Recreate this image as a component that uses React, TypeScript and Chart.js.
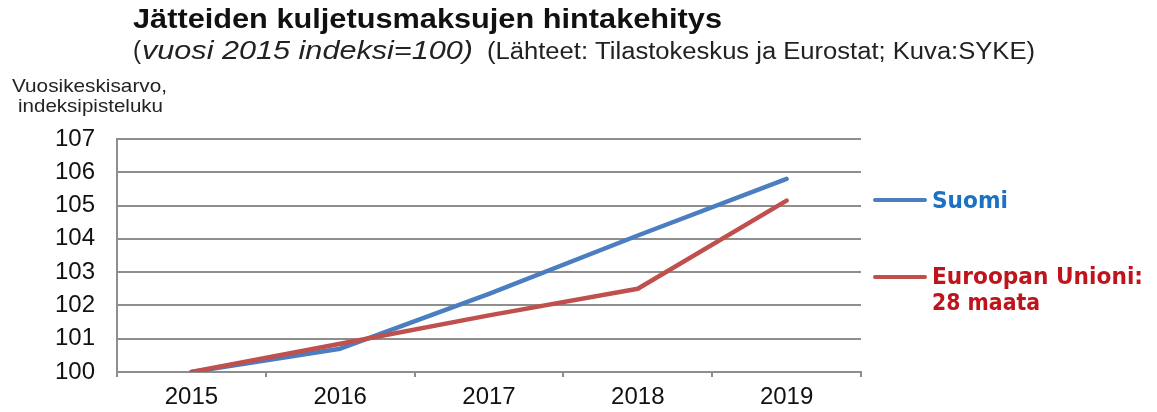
import React, { useEffect, useRef } from "react";
import { Chart, registerables } from "chart.js";

Chart.register(...registerables);

const years = ["2015", "2016", "2017", "2018", "2019"];
const suomiValues = [100, 100.7, 102.35, 104.1, 105.8];
const euValues = [100, 100.85, 101.7, 102.5, 105.15];
const yMin = 100;
const yMax = 107;

const titleText = "Jätteiden kuljetusmaksujen hintakehitys";
const subtitleItalic = "vuosi 2015 indeksi=100)";
const subtitleSource = "(Lähteet: Tilastokeskus ja Eurostat; Kuva:SYKE)";
const axisTitleLines = ["Vuosikeskisarvo,", "indeksipisteluku"];
const suomiLabel = ["Suomi"];
const euLabel = ["Euroopan Unioni:", "28 maata"];

const BLUE_LINE = "#4A7EC0";
const RED_LINE = "#C0504D";
const BLUE_TEXT = "#1B72C2";
const RED_TEXT = "#C0141C";
const GRID = "#8E8E8E";

function fitText(
  ctx: CanvasRenderingContext2D,
  text: string,
  x: number,
  baseline: number,
  width: number,
  font: string,
  color: string
) {
  ctx.save();
  ctx.font = font;
  ctx.fillStyle = color;
  ctx.textAlign = "left";
  ctx.textBaseline = "alphabetic";
  const w = ctx.measureText(text).width;
  ctx.translate(x, baseline);
  ctx.scale(width / w, 1);
  ctx.fillText(text, 0, 0);
  ctx.restore();
}

const annotations = {
  id: "annotations",
  afterDraw(chart: any) {
    const ctx: CanvasRenderingContext2D = chart.ctx;
    const SANS = "'Liberation Sans', Arial, sans-serif";
    fitText(ctx, titleText, 133, 28, 589, `bold 27px ${SANS}`, "#111");
    fitText(ctx, "(", 133, 59, 8, `25px ${SANS}`, "#222");
    fitText(ctx, subtitleItalic, 142, 59, 331, `italic 25px ${SANS}`, "#222");
    fitText(ctx, subtitleSource, 487, 59, 548, `23px ${SANS}`, "#222");
    fitText(ctx, axisTitleLines[0], 12, 92, 155, `19px ${SANS}`, "#222");
    fitText(ctx, axisTitleLines[1], 18, 112, 145, `19px ${SANS}`, "#222");

    const LEG = "'DejaVu Sans', Verdana, sans-serif";
    ctx.save();
    ctx.lineWidth = 4;
    ctx.lineCap = "round";
    ctx.strokeStyle = BLUE_LINE;
    ctx.beginPath();
    ctx.moveTo(875, 200);
    ctx.lineTo(925, 200);
    ctx.stroke();
    ctx.strokeStyle = RED_LINE;
    ctx.beginPath();
    ctx.moveTo(875, 277);
    ctx.lineTo(925, 277);
    ctx.stroke();
    ctx.restore();
    fitText(ctx, suomiLabel[0], 932, 208, 76, `bold 23px ${LEG}`, BLUE_TEXT);
    fitText(ctx, euLabel[0], 932, 284, 211, `bold 23px ${LEG}`, RED_TEXT);
    fitText(ctx, euLabel[1], 932, 310, 108, `bold 23px ${LEG}`, RED_TEXT);
  },
};

export default function App() {
  const ref = useRef<HTMLCanvasElement>(null);
  useEffect(() => {
    document.body.style.margin = "0";
    const canvas = ref.current!;
    const chart = new Chart(canvas, {
      type: "line",
      data: {
        labels: years,
        datasets: [
          {
            label: euLabel.join(" "),
            data: euValues,
            borderColor: RED_LINE,
            borderWidth: 4.5,
            pointRadius: 0,
            tension: 0,
            borderCapStyle: "round",
            borderJoinStyle: "round",
          },
          {
            label: suomiLabel[0],
            data: suomiValues,
            borderColor: BLUE_LINE,
            borderWidth: 4.5,
            pointRadius: 0,
            tension: 0,
            borderCapStyle: "round",
            borderJoinStyle: "round",
          },
        ],
      },
      options: {
        responsive: false,
        animation: false,
        layout: { padding: { top: 139, right: 296, left: 0, bottom: 0 } },
        plugins: { legend: { display: false }, tooltip: { enabled: false } },
        scales: {
          x: {
            offset: true,
            grid: {
              offset: true,
              drawOnChartArea: false,
              drawTicks: true,
              tickLength: 5,
              color: GRID,
              lineWidth: 2,
            },
            border: { display: true, color: GRID, width: 2 },
            ticks: {
              color: "#111",
              font: { family: "'Liberation Sans', Arial, sans-serif", size: 24 },
              padding: 6,
              maxRotation: 0,
            },
            afterFit(scale: any) {
              scale.height = 40;
            },
          },
          y: {
            min: yMin,
            max: yMax,
            grid: { drawTicks: false, color: GRID, lineWidth: 2 },
            border: { display: true, color: GRID, width: 2 },
            ticks: {
              stepSize: 1,
              color: "#111",
              font: { family: "'Liberation Sans', Arial, sans-serif", size: 24 },
              padding: 22,
            },
            afterFit(scale: any) {
              scale.width = 117;
            },
          },
        },
      },
      plugins: [annotations],
    });
    return () => chart.destroy();
  }, []);
  return <canvas ref={ref} width={1157} height={412} style={{ display: "block" }} />;
}
